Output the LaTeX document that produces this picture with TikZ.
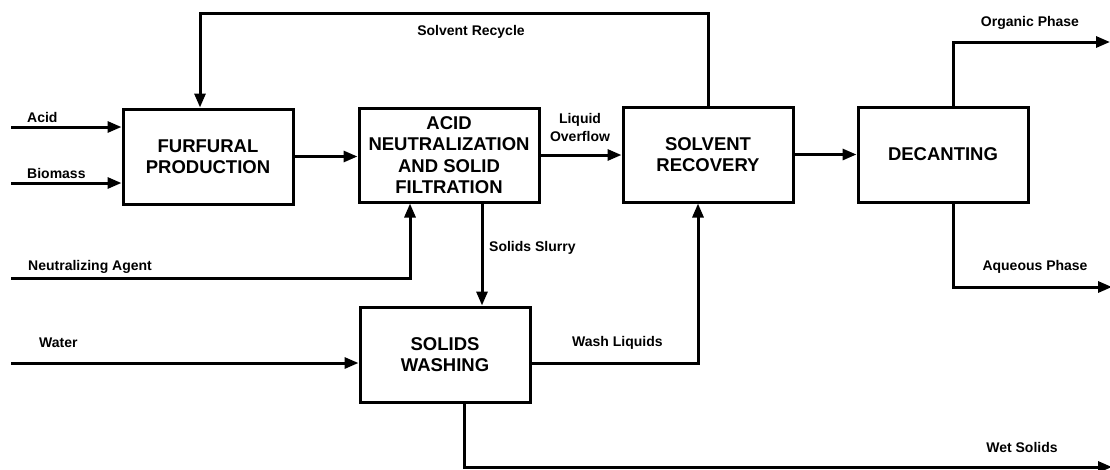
\documentclass[tikz,border=0pt]{standalone}
\usepackage{fontspec}
\setmainfont{Liberation Sans}
\usetikzlibrary{arrows.meta,calc}
\begin{document}
\begin{tikzpicture}[x=1pt,y=-1pt,
  box/.style={draw,line width=3pt,minimum width=170pt,minimum height=95pt,align=center,
    font=\fontsize{18.5}{21.5}\selectfont\bfseries,inner sep=0pt},
  lbl/.style={font=\fontsize{14}{18}\selectfont\bfseries,inner sep=0pt},
  arr/.style={line width=3pt,-{Triangle[length=14pt,width=11pt]}},
  ln/.style={line width=3pt}]
\useasboundingbox (0,0) rectangle (1110,469);
% boxes
\node[box] (fur) at (208,156.5) {FURFURAL\\PRODUCTION};
\node[box,minimum width=180pt,minimum height=94pt] (acid) at (449,155) {ACID\\NEUTRALIZATION\\AND SOLID\\FILTRATION};
\node[box] (solv) at (708,154.5) {SOLVENT\\RECOVERY};
\node[box] (dec) at (943,154.5) {DECANTING};
\node[box] (wash) at (445,354.5) {SOLIDS\\WASHING};
% coordinates
\coordinate (acidin) at (11,127);
\coordinate (bioin) at (11,183);
\coordinate (nain) at (11,278);
\coordinate (nax) at (410,278);
\coordinate (rc) at (200,13);
\coordinate (ss) at (482,250);
\coordinate (win) at (11,363);
\coordinate (wl) at (698,363);
\coordinate (ws) at (464,467);
\coordinate (wsend) at (1112,467);
\coordinate (op) at (953,42);
\coordinate (opend) at (1110,42);
\coordinate (aq) at (953,287);
\coordinate (aqend) at (1112,287);
% connectors
\draw[arr] (acidin) -- (acidin -| fur.west);
\draw[arr] (bioin) -- (bioin -| fur.west);
\draw[arr] (fur.east) -- (acid.west |- fur.east);
\draw[arr] (acid.east) -- (solv.west |- acid.east);
\draw[arr] (solv.east) -- (dec.west);
\draw[arr] (solv.north) |- (rc) -- (rc |- fur.north);
\draw[arr] (nain) -- (nax) -- (nax |- acid.south);
\draw[arr] (ss |- acid.south) -- (ss |- wash.north);
\draw[arr] (win) -- (win -| wash.west);
\draw[arr] (wl -| wash.east) -- (wl) -- (wl |- solv.south);
\draw[arr] (ws |- wash.south) -- (ws) -- (wsend);
\draw[arr] (op |- dec.north) -- (op) -- (opend);
\draw[arr] (aq |- dec.south) -- (aq) -- (aqend);
% labels
\node[lbl,anchor=west] (lacid) at (27,117) {Acid};
\node[lbl,anchor=west] (lbio) at (27,173) {Biomass};
\node[lbl,anchor=west] (lna) at (28,267) {Neutralizing Agent};
\node[lbl,anchor=west] (lwater) at (39,343) {Water};
\node[lbl] (lrec) at (471,32) {Solvent Recycle};
\node[lbl,align=center,font=\fontsize{14}{18}\selectfont\bfseries] (llo) at (580,127) {Liquid\\Overflow};
\node[lbl,anchor=west] (lss) at (489,248) {Solids Slurry};
\node[lbl,anchor=west] (lwl) at (572,343) {Wash Liquids};
\node[lbl] (lop) at (1030,23) {Organic Phase};
\node[lbl] (laq) at (1035,267) {Aqueous Phase};
\node[lbl] (lws) at (1022,447) {Wet Solids};
\end{tikzpicture}
\end{document}
